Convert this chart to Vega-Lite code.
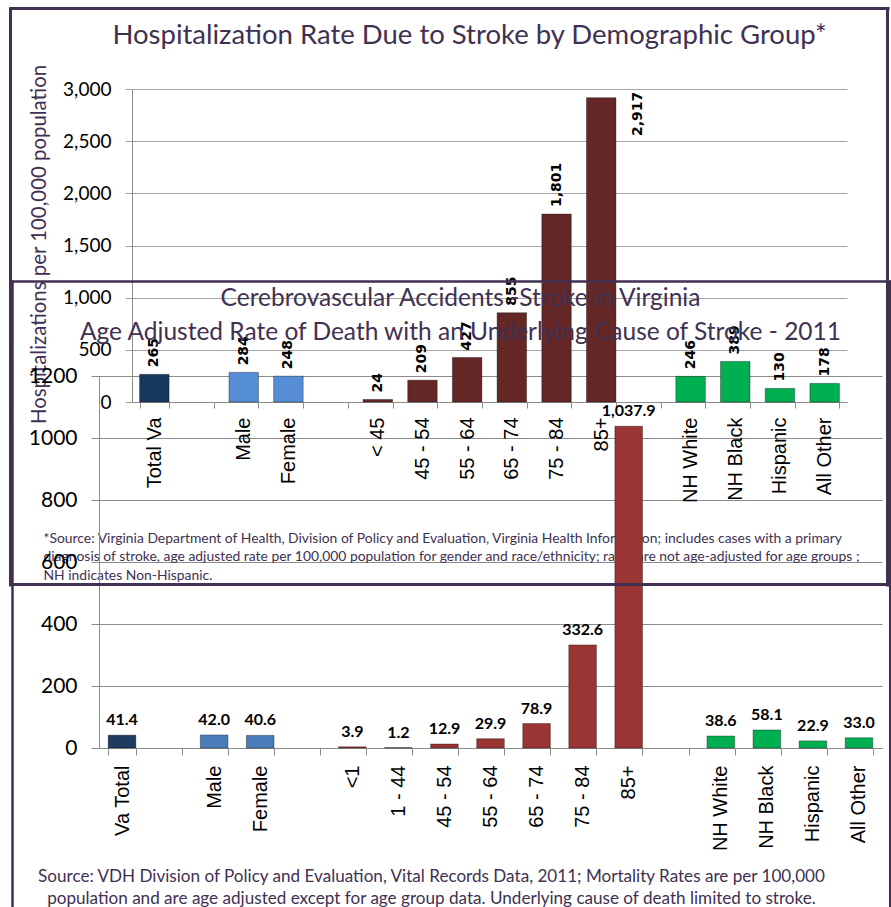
{
  "$schema": "https://vega.github.io/schema/vega-lite/v6.json",
  "width": 715,
  "height": 313,
  "autosize": "none",
  "padding": {"left": 132, "top": 89, "right": 44, "bottom": 505},
  "background": "white",
  "config": {"view": {"stroke": null}, "axis": {"labelOverlap": false, "labelFlush": false}},
  "datasets": {
    "hosp": [
      {"cat": "Total Va", "v": 265, "g": "total"},
      {"cat": "Male", "v": 284, "g": "sex"},
      {"cat": "Female", "v": 248, "g": "sex"},
      {"cat": "< 45", "v": 24, "g": "age"},
      {"cat": "45 - 54", "v": 209, "g": "age"},
      {"cat": "55 - 64", "v": 427, "g": "age"},
      {"cat": "65 - 74", "v": 855, "g": "age"},
      {"cat": "75 - 84", "v": 1801, "g": "age"},
      {"cat": "85+", "v": 2917, "g": "age"},
      {"cat": "NH White", "v": 246, "g": "race"},
      {"cat": "NH Black", "v": 389, "g": "race"},
      {"cat": "Hispanic", "v": 130, "g": "race"},
      {"cat": "All Other", "v": 178, "g": "race"}
    ],
    "death": [
      {"cat": "Va Total", "v": 41.4, "g": "total"},
      {"cat": "Male", "v": 42.0, "g": "sex"},
      {"cat": "Female", "v": 40.6, "g": "sex"},
      {"cat": "<1", "v": 3.9, "g": "age"},
      {"cat": "1 - 44", "v": 1.2, "g": "age"},
      {"cat": "45 - 54", "v": 12.9, "g": "age"},
      {"cat": "55 - 64", "v": 29.9, "g": "age"},
      {"cat": "65 - 74", "v": 78.9, "g": "age"},
      {"cat": "75 - 84", "v": 332.6, "g": "age"},
      {"cat": "85+", "v": 1037.9, "g": "age"},
      {"cat": "NH White", "v": 38.6, "g": "race"},
      {"cat": "NH Black", "v": 58.1, "g": "race"},
      {"cat": "Hispanic", "v": 22.9, "g": "race"},
      {"cat": "All Other", "v": 33.0, "g": "race"}
    ]
  },
  "resolve": {
    "scale": {"x": "independent", "y": "independent", "color": "independent"},
    "axis": {"x": "independent", "y": "independent"}
  },
  "layer": [
    {
      "data": {"name": "hosp"},
      "mark": {"type": "bar", "stroke": "#000000", "strokeOpacity": 0.35, "strokeWidth": 1},
      "encoding": {
        "x": {"field": "cat", "type": "nominal", "sort": null,
          "scale": {"domain": ["Total Va", "_1", "Male", "Female", "_2", "< 45", "45 - 54", "55 - 64", "65 - 74", "75 - 84", "85+", "_3", "NH White", "NH Black", "Hispanic", "All Other"], "range": [0, 715], "paddingInner": 0.34, "paddingOuter": 0.17},
          "axis": {"orient": "bottom", "offset": 0, "title": null, "labelAngle": -90, "labelFont": "Liberation Sans", "labelFontSize": 20, "labelColor": "#000000", "labelPadding": 9, "labelExpr": "indexof(datum.label + '', '_') == 0 ? '' : datum.label", "tickBand": "extent", "tickSize": 6, "tickColor": "#8c8c8c", "domainColor": "#8c8c8c", "grid": false, "labelLimit": 300}},
        "y": {"field": "v", "type": "quantitative",
          "scale": {"domain": [0, 3000], "range": [313, 0], "nice": false, "zero": true},
          "axis": {"orient": "left", "offset": 0, "values": [0, 500, 1000, 1500, 2000, 2500, 3000], "format": ",.0f", "labelFont": "Lato", "labelFontSize": 19, "labelColor": "#000000", "labelPadding": 14, "tickSize": 7, "tickColor": "#a0a0a0", "domainColor": "#8c8c8c", "grid": true, "gridColor": "#a6a6a6",
            "title": "Hospitalizations per 100,000 population", "titleFont": "Lato", "titleFontSize": 20.4, "titleFontWeight": "normal", "titleColor": "#403152", "titleX": -93, "titleY": 155, "titleAngle": 270, "titleBaseline": "middle", "titleAlign": "center"}},
        "color": {"field": "g", "type": "nominal", "scale": {"domain": ["total", "sex", "age", "race"], "range": ["#17375E", "#558ED5", "#652726", "#00B050"]}, "legend": null}
      }
    },
    {
      "data": {"name": "hosp"},
      "transform": [{"filter": "datum.v < 2500"}],
      "mark": {"type": "text", "angle": 270, "align": "left", "baseline": "middle", "dx": 7, "font": "DejaVu Sans", "fontWeight": "bold", "fontSize": 14, "color": "#000000"},
      "encoding": {
        "x": {"field": "cat", "type": "nominal", "sort": null,
          "scale": {"domain": ["Total Va", "_1", "Male", "Female", "_2", "< 45", "45 - 54", "55 - 64", "65 - 74", "75 - 84", "85+", "_3", "NH White", "NH Black", "Hispanic", "All Other"], "range": [0, 715], "paddingInner": 0.34, "paddingOuter": 0.17},
          "axis": {"orient": "top", "offset": 0, "domain": false, "ticks": false, "labels": false, "grid": false,
            "title": "Hospitalization Rate Due to Stroke by Demographic Group*", "titleFont": "Lato", "titleFontSize": 27.5, "titleFontWeight": "normal", "titleColor": "#403152", "titleX": 337, "titleY": -54, "titleAlign": "center", "titleBaseline": "middle", "titleAngle": 0}},
        "y": {"field": "v", "type": "quantitative",
          "scale": {"domain": [0, 3000], "range": [313, 0], "nice": false, "zero": true},
          "axis": {"orient": "right", "offset": 0, "domain": false, "ticks": false, "labels": false, "grid": false,
            "title": ["*Source: Virginia Department of Health, Division of Policy and Evaluation, Virginia Health Information; includes cases with a primary", "diagnosis of stroke,  age adjusted rate per 100,000 population for gender and race/ethnicity; rates are not age-adjusted for age groups ;", "NH indicates Non-Hispanic."],
            "titleFont": "Lato", "titleFontSize": 13.9, "titleFontWeight": "normal", "titleColor": "#403152", "titleX": -804, "titleY": 449, "titleAlign": "left", "titleBaseline": "middle", "titleAngle": 0, "titleLineHeight": 18.5, "titleLimit": 1000}},
        "text": {"field": "v", "type": "quantitative", "format": ","}
      }
    },
    {
      "data": {"name": "hosp"},
      "transform": [{"filter": "datum.v >= 2500"}],
      "mark": {"type": "text", "angle": 270, "align": "right", "baseline": "middle", "dx": 6, "dy": 37, "font": "DejaVu Sans", "fontWeight": "bold", "fontSize": 14, "color": "#000000"},
      "encoding": {
        "x": {"field": "cat", "type": "nominal", "sort": null,
          "scale": {"domain": ["Total Va", "_1", "Male", "Female", "_2", "< 45", "45 - 54", "55 - 64", "65 - 74", "75 - 84", "85+", "_3", "NH White", "NH Black", "Hispanic", "All Other"], "range": [0, 715], "paddingInner": 0.34, "paddingOuter": 0.17},
          "axis": null},
        "y": {"field": "v", "type": "quantitative", "scale": {"domain": [0, 3000], "range": [313, 0], "nice": false, "zero": true}, "axis": null},
        "text": {"field": "v", "type": "quantitative", "format": ","}
      }
    },
    {
      "data": {"name": "death"},
      "mark": {"type": "bar", "stroke": "#000000", "strokeOpacity": 0.35, "strokeWidth": 1},
      "encoding": {
        "x": {"field": "cat", "type": "nominal", "sort": null,
          "scale": {"domain": ["Va Total", "_1", "Male", "Female", "_2", "<1", "1 - 44", "45 - 54", "55 - 64", "65 - 74", "75 - 84", "85+", "_3", "NH White", "NH Black", "Hispanic", "All Other"], "range": [-33, 750], "paddingInner": 0.4, "paddingOuter": 0.2},
          "axis": {"orient": "bottom", "offset": 346, "title": null, "labelAngle": -90, "labelFont": "Liberation Sans", "labelFontSize": 20, "labelColor": "#000000", "labelPadding": 10, "labelExpr": "indexof(datum.label + '', '_') == 0 ? '' : datum.label", "tickBand": "extent", "tickSize": 7, "tickColor": "#8c8c8c", "domainColor": "#8c8c8c", "grid": false, "labelLimit": 300}},
        "y": {"field": "v", "type": "quantitative",
          "scale": {"domain": [0, 1200], "range": [659, 287], "nice": false, "zero": true},
          "axis": {"orient": "left", "offset": 33, "values": [0, 200, 400, 600, 800, 1000, 1200], "format": "d", "labelFont": "Lato", "labelFontSize": 21, "labelColor": "#000000", "labelPadding": 14, "tickSize": 8, "tickColor": "#8c8c8c", "domainColor": "#8c8c8c", "grid": true, "gridColor": "#8c8c8c", "title": null}},
        "color": {"field": "g", "type": "nominal", "scale": {"domain": ["total", "sex", "age", "race"], "range": ["#1F3B60", "#4A7EBB", "#9B3533", "#00B050"]}, "legend": null}
      }
    },
    {
      "data": {"name": "death"},
      "mark": {"type": "text", "align": "center", "baseline": "alphabetic", "dy": -10, "font": "Lato", "fontWeight": "bold", "fontSize": 16, "color": "#000000"},
      "encoding": {
        "x": {"field": "cat", "type": "nominal", "sort": null,
          "scale": {"domain": ["Va Total", "_1", "Male", "Female", "_2", "<1", "1 - 44", "45 - 54", "55 - 64", "65 - 74", "75 - 84", "85+", "_3", "NH White", "NH Black", "Hispanic", "All Other"], "range": [-33, 750], "paddingInner": 0.4, "paddingOuter": 0.2},
          "axis": {"orient": "top", "offset": 0, "domain": false, "ticks": false, "labels": false, "grid": false,
            "title": ["Cerebrovascular Accidents -Stroke in Virginia", "Age Adjusted Rate of Death with an Underlying Cause of Stroke - 2011"],
            "titleFont": "Lato", "titleFontSize": 24.5, "titleFontWeight": "normal", "titleColor": "#403152", "titleX": 328, "titleY": 209, "titleAlign": "center", "titleBaseline": "middle", "titleAngle": 0, "titleLineHeight": 34, "titleLimit": 1000, "zindex": 1}},
        "y": {"field": "v", "type": "quantitative",
          "scale": {"domain": [0, 1200], "range": [659, 287], "nice": false, "zero": true},
          "axis": {"orient": "right", "offset": 0, "domain": false, "ticks": false, "labels": false, "grid": false,
            "title": ["Source: VDH Division of Policy and Evaluation, Vital Records Data, 2011; Mortality Rates are per 100,000", "population and are age adjusted except for age group data. Underlying cause of death limited to stroke."],
            "titleFont": "Lato", "titleFontSize": 17.1, "titleFontWeight": "normal", "titleColor": "#403152", "titleX": -416, "titleY": 787, "titleAlign": "center", "titleBaseline": "middle", "titleAngle": 0, "titleLineHeight": 22.5, "titleLimit": 1000}},
        "text": {"field": "v", "type": "quantitative", "format": ",.1f"}
      }
    },
    {
      "data": {"name": "hosp"},
      "mark": {"type": "point", "opacity": 0},
      "encoding": {
        "x": {"field": "v", "type": "quantitative", "scale": {"domain": [0, 1], "range": [-121.5, 755.5], "nice": false, "zero": false},
          "axis": {"orient": "top", "offset": 81, "domain": true, "domainColor": "#403152", "domainWidth": 3, "domainCap": "square", "ticks": false, "labels": false, "grid": false, "title": null, "zindex": 1}},
        "y": {"field": "v", "type": "quantitative", "scale": {"domain": [0, 1], "range": [495.5, -80.5], "nice": false, "zero": false},
          "axis": {"orient": "left", "offset": 122, "domain": true, "domainColor": "#403152", "domainWidth": 3, "domainCap": "square", "ticks": false, "labels": false, "grid": false, "title": null, "zindex": 1}}
      }
    },
    {
      "data": {"name": "hosp"},
      "mark": {"type": "point", "opacity": 0},
      "encoding": {
        "x": {"field": "v", "type": "quantitative", "scale": {"domain": [0, 1], "range": [-121.5, 755.5], "nice": false, "zero": false},
          "axis": {"orient": "bottom", "offset": 182, "domain": true, "domainColor": "#403152", "domainWidth": 3, "domainCap": "square", "ticks": false, "labels": false, "grid": false, "title": null, "zindex": 1}},
        "y": {"field": "v", "type": "quantitative", "scale": {"domain": [0, 1], "range": [495.5, -80.5], "nice": false, "zero": false},
          "axis": {"orient": "right", "offset": 40, "domain": true, "domainColor": "#403152", "domainWidth": 3, "domainCap": "square", "ticks": false, "labels": false, "grid": false, "title": null, "zindex": 1}}
      }
    },
    {
      "data": {"name": "death"},
      "mark": {"type": "point", "opacity": 0},
      "encoding": {
        "x": {"field": "v", "type": "quantitative", "scale": {"domain": [0, 1], "range": [-119.5, 758], "nice": false, "zero": false}, "axis": null},
        "y": {"field": "v", "type": "quantitative", "scale": {"domain": [0, 1], "range": [841, 192], "nice": false, "zero": false},
          "axis": {"orient": "left", "offset": 120, "values": [1], "domain": true, "domainColor": "#403152", "domainWidth": 2.5, "domainCap": "square", "ticks": false, "labels": false, "grid": true, "gridColor": "#403152", "gridWidth": 2.5, "gridCap": "square", "title": null, "zindex": 1}}
      }
    },
    {
      "data": {"name": "death"},
      "mark": {"type": "point", "opacity": 0},
      "encoding": {
        "x": {"field": "v", "type": "quantitative", "scale": {"domain": [0, 1], "range": [-119.5, 758], "nice": false, "zero": false}, "axis": null},
        "y": {"field": "v", "type": "quantitative", "scale": {"domain": [0, 1], "range": [841, 192], "nice": false, "zero": false},
          "axis": {"orient": "right", "offset": 42.5, "domain": true, "domainColor": "#403152", "domainWidth": 2, "domainCap": "square", "ticks": false, "labels": false, "grid": false, "title": null, "zindex": 1}}
      }
    }
  ]
}
